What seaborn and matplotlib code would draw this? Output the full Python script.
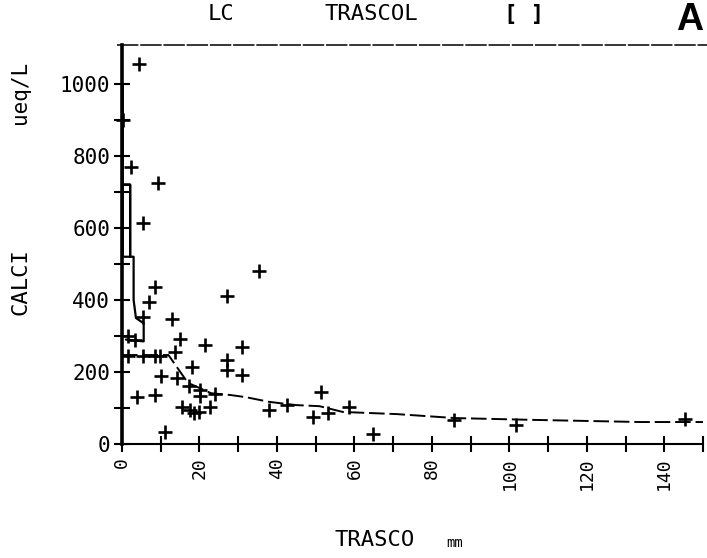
import matplotlib
matplotlib.use('Agg')
import matplotlib.pyplot as plt
import seaborn as sns
from matplotlib.lines import Line2D

sns.set_theme(style='white')
plt.rcParams['font.family'] = ['DejaVu Sans Mono', 'DejaVu Sans']
plt.rcParams['text.color'] = 'black'
plt.rcParams['xtick.color'] = 'black'
plt.rcParams['ytick.color'] = 'black'

# ---- data ----
trasco = [0.3, 4.5, 2.3, 9.3, 5.4, 8.5, 6.9, 5.4, 12.9, 1.5, 3.3, 15.0, 21.4,
          27.0, 35.3, 31.0, 27.0, 27.0, 31.0, 18.0, 13.6, 9.8, 8.5, 5.4, 1.6,
          10.0, 14.3, 17.2, 20.2, 20.2, 24.0, 22.8, 15.4, 17.5, 18.5, 19.8,
          3.9, 8.5, 11.2, 38.0, 42.5, 51.3, 49.2, 53.3, 58.5, 64.7, 85.8,
          101.8, 145.4]
calci = [900, 1055, 770, 725, 614, 435, 395, 352, 347, 300, 288, 292, 276,
         411, 481, 270, 233, 205, 192, 214, 255, 245, 245, 245, 245,
         189, 184, 162, 151, 133, 140, 103, 103, 94, 87, 88,
         130, 136, 33, 94, 108, 144, 75, 86, 103, 28, 67,
         53, 69]

# steep solid part of the curve near the origin
steep_x = [0.2, 0.2, 2.1, 2.1, 0.2, 0.2, 2.1, 2.1, 3.0, 3.0, 3.6, 5.6, 5.6, 1.0]
steep_y = [1000, 720, 720, 520, 520, 720, 720, 520, 520, 400, 350, 335, 285, 290]

# dashed fitted curve
fit_x = [0, 12, 17, 23, 28, 32, 38, 45, 51, 57, 71, 86, 106, 134, 150]
fit_y = [247, 247, 170, 141, 136, 130, 117, 108, 105, 89, 83, 72, 67, 61, 61]

x_major = [0, 20, 40, 60, 80, 100, 120, 140]
x_labels = ['0', '20', '40', '60', '80', '100', '120', '140']
x_minor = [10, 30, 50, 70, 90, 110, 130, 150]
y_major = [0, 200, 400, 600, 800, 1000]
y_labels = ['0', '200', '400', '600', '800', '1000']
y_minor = [100, 300, 500, 700, 900]

W, H = 707, 558
fig = plt.figure(figsize=(W / 100, H / 100), dpi=100)
ax = fig.add_axes([122 / W, 1 - 444 / H, (703 - 122) / W, (444 - 45) / H])

sns.scatterplot(x=trasco, y=calci, marker='+', s=95, linewidth=1.9,
                color='black', ax=ax, zorder=3, clip_on=False)
sns.lineplot(x=steep_x, y=steep_y, sort=False, estimator=None, color='black',
             lw=1.6, ax=ax)
sns.lineplot(x=fit_x, y=fit_y, sort=False, estimator=None, color='black',
             lw=1.4, linestyle=(0, (8, 2.5)), ax=ax)

ax.set_xlim(0, 150)
ax.set_ylim(0, 1108)
ax.set_xticks(x_major)
ax.set_xticklabels(x_labels, rotation=90, va='top', ha='center')
ax.set_xticks(x_minor, minor=True)
ax.set_yticks(y_major)
ax.set_yticklabels(y_labels)
ax.set_yticks(y_minor, minor=True)
ax.tick_params(which='both', direction='inout', length=11, width=1.5,
               color='black', bottom=True, left=True)
ax.tick_params(axis='x', which='major', labelsize=13, pad=4, labelcolor='black')
ax.tick_params(axis='y', which='major', labelsize=15, pad=3, labelcolor='black')
ax.set_xlabel('')
ax.set_ylabel('')

for s in ['top', 'right']:
    ax.spines[s].set_visible(False)
ax.spines['left'].set_linewidth(2.6)
ax.spines['bottom'].set_linewidth(1.5)
ax.spines['left'].set_color('black')
ax.spines['bottom'].set_color('black')

# top border line extending to the right edge
fig.add_artist(Line2D([117 / W, 1.0], [1 - 45 / H, 1 - 45 / H],
                      color='black', lw=1.1, linestyle=(0, (14, 1.2))))

def fx(px):
    return px / W

def fy(py):
    return 1 - py / H

# title words
fig.text(fx(221), fy(14), 'LC', ha='center', va='center', fontsize=16)
fig.text(fx(371), fy(14), 'TRASCOL', ha='center', va='center', fontsize=16)
fig.text(fx(524), fy(14), '[ ]', ha='center', va='center', fontsize=16,
         fontweight='bold')
fig.text(fx(690), fy(20), 'A', ha='center', va='center', fontsize=27,
         fontweight='bold', family=['Liberation Sans', 'DejaVu Sans'])

# axis labels
fig.text(fx(375), fy(540), 'TRASCO', ha='center', va='center', fontsize=16)
fig.text(fx(455), fy(543), 'mm', ha='center', va='center', fontsize=10)
fig.text(fx(20), fy(282), 'CALCI', ha='center', va='center', fontsize=16,
         rotation=90)
fig.text(fx(20), fy(92), 'ueq/L', ha='center', va='center', fontsize=15,
         rotation=90)

fig.savefig('out.png', dpi=100, facecolor='white')
